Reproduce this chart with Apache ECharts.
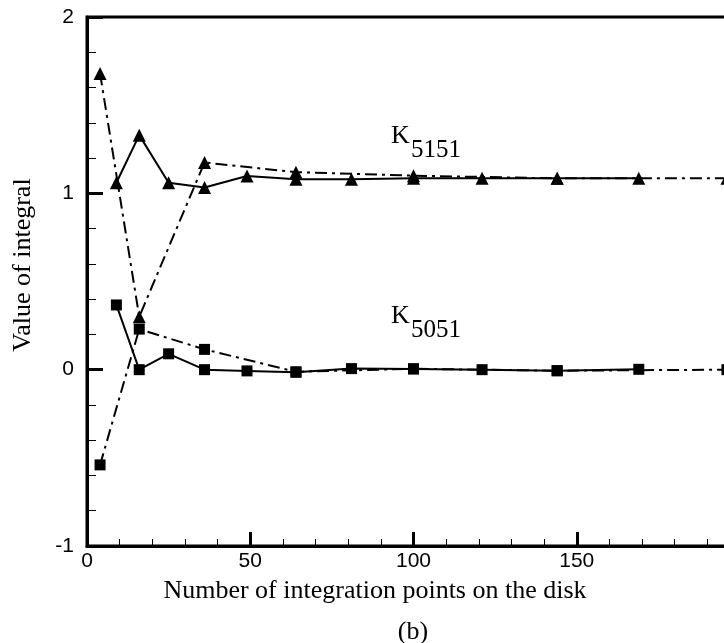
<!DOCTYPE html>
<html>
<head>
<meta charset="utf-8">
<script src="https://cdn.jsdelivr.net/npm/echarts@6/dist/echarts.min.js"></script>
<style>html,body{margin:0;padding:0;background:#fff}#c{width:724px;height:643px}</style>
</head>
<body>
<div id="c"></div>
<script>
// Data
const xSolid = [9, 16, 25, 36, 49, 64, 81, 100, 121, 144, 169];
const xDash = [4, 16, 36, 64, 100, 144, 196];
const k5151Solid = [1.06, 1.33, 1.06, 1.033, 1.098, 1.08, 1.08, 1.085, 1.085, 1.085, 1.085];
const k5151Dash = [1.68, 0.30, 1.175, 1.12, 1.10, 1.085, 1.085];
const k5051Solid = [0.367, 0.0, 0.09, 0.0, -0.007, -0.015, 0.006, 0.004, 0.0, -0.006, 0.002];
const k5051Dash = [-0.54, 0.23, 0.115, -0.012, 0.005, -0.006, 0.0];
const xTicks = [0, 50, 100, 150];
const yTicks = [-1, 0, 1, 2];

const pair = (xs, ys) => xs.map((x, i) => [x, ys[i]]);
const dash = [12, 5, 3, 5];
const serif = '"Liberation Serif", "Times New Roman", serif';
const sans = '"Liberation Sans", Arial, sans-serif';

function series(name, xs, ys, symbol, size, dashed) {
  return {
    name, type: 'line', data: pair(xs, ys),
    symbol, symbolSize: size, showSymbol: true,
    itemStyle: { color: '#000' },
    lineStyle: { color: '#000', width: 2, type: dashed ? dash : 'solid' },
    animation: false, z: dashed ? 3 : 4
  };
}

function txt(x, y, text, size, align, extra) {
  return Object.assign({ type: 'text', x, y, style: {
    text, fill: '#000', font: size + 'px ' + serif,
    textAlign: align, textVerticalAlign: 'middle' } }, extra || {});
}

const chart = echarts.init(document.getElementById('c'));
chart.setOption({
  backgroundColor: '#fff',
  animation: false,
  grid: { left: 87, top: 17, height: 529, width: 653, containLabel: false,
          outerBoundsMode: 'none',
          show: true, borderColor: '#000', borderWidth: 3, backgroundColor: 'transparent' },
  xAxis: {
    type: 'value', min: 0, max: 200, interval: 50, position: 'bottom',
    axisLine: { show: true, onZero: false, lineStyle: { color: '#000', width: 3 } },
    axisTick: { show: true, inside: true, length: 14, lineStyle: { color: '#000', width: 3 } },
    minorTick: { show: true, splitNumber: 5, length: 7, lineStyle: { color: '#000', width: 1 } },
    splitLine: { show: false },
    axisLabel: { show: true, color: '#000', fontFamily: sans, fontSize: 21, margin: 5,
      formatter: v => xTicks.includes(v) ? String(v) : '' }
  },
  yAxis: {
    type: 'value', min: -1, max: 2, interval: 1,
    axisLine: { show: true, onZero: false, lineStyle: { color: '#000', width: 3 } },
    axisTick: { show: true, inside: true, length: 16, lineStyle: { color: '#000', width: 3 } },
    minorTick: { show: true, splitNumber: 5, length: 9, lineStyle: { color: '#000', width: 1 } },
    splitLine: { show: false },
    axisLabel: { show: true, color: '#000', fontFamily: sans, fontSize: 21, margin: 13,
      formatter: v => yTicks.includes(v) ? String(v) : '' }
  },
  series: [
    series('K5151 solid', xSolid, k5151Solid, 'triangle', 13, false),
    series('K5151 dash', xDash, k5151Dash, 'triangle', 13, true),
    series('K5051 solid', xSolid, k5051Solid, 'rect', 11, false),
    series('K5051 dash', xDash, k5051Dash, 'rect', 11, true)
  ],
  graphic: [
    txt(391, 136, 'K', 26, 'left'),
    txt(411, 150, '5151', 25, 'left'),
    txt(391, 316, 'K', 26, 'left'),
    txt(411, 330, '5051', 25, 'left'),
    txt(375, 591, 'Number of integration points on the disk', 26, 'center'),
    txt(413, 632, '(b)', 26, 'center'),
    txt(23, 265, 'Value of integral', 26, 'center', { rotation: Math.PI / 2 })
  ]
});
</script>
</body>
</html>
